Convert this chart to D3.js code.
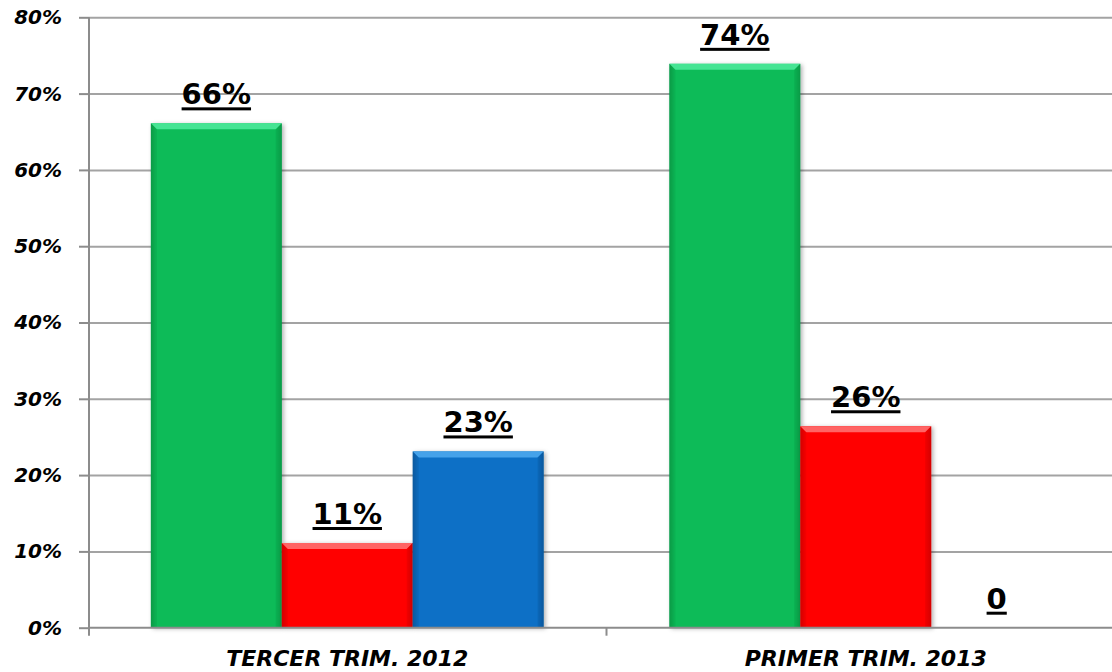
<!DOCTYPE html>
<html>
<head>
<meta charset="utf-8">
<script src="https://cdn.jsdelivr.net/npm/d3@7"></script>
<style>
  html, body { margin: 0; padding: 0; background: #ffffff; }
  svg { display: block; }
</style>
</head>
<body>
<svg id="chart" width="1112" height="672"></svg>
<script>
// ---- data ----
const categories = ["TERCER TRIM. 2012", "PRIMER TRIM. 2013"];
const seriesKeys = ["verde", "rojo", "azul"];
const greenValues = [66.1, 73.9];
const redValues = [11.1, 26.4];
const blueValues = [23.1, 0];
const greenLabels = ["66%", "74%"];
const redLabels = ["11%", "26%"];
const blueLabels = ["23%", "0"];
const yTickValues = [0, 10, 20, 30, 40, 50, 60, 70, 80];
const yTickLabels = ["0%", "10%", "20%", "30%", "40%", "50%", "60%", "70%", "80%"];

const seriesValues = { verde: greenValues, rojo: redValues, azul: blueValues };
const seriesLabels = { verde: greenLabels, rojo: redLabels, azul: blueLabels };
const colors = {
  verde: { base: "#0bbb58", top: "#45e493", dark: "#079a47" },
  rojo:  { base: "#ff0000", top: "#ff6464", dark: "#d40000" },
  azul:  { base: "#0a70c6", top: "#45a2ea", dark: "#07589e" }
};

(function () {
const svg = d3.select("#chart");
const mLeft = 89, mTop = 17.3, mBottom = 627.7, mRight = 1125;

const y = d3.scaleLinear().domain([0, 80]).range([mBottom, mTop]);
const x0 = d3.scaleBand().domain(categories).range([mLeft - 1, mRight]).padding(0);
const x1 = d3.scaleBand().domain(seriesKeys).range([0, x0.bandwidth()]).paddingInner(0).paddingOuter(0.48);

// defs
const defs = svg.append("defs");
const f = defs.append("filter").attr("id", "shadow").attr("x", "-10%").attr("y", "-10%").attr("width", "130%").attr("height", "130%");
f.append("feDropShadow").attr("dx", 2).attr("dy", 1).attr("stdDeviation", 2).attr("flood-color", "#000").attr("flood-opacity", 0.3);
seriesKeys.forEach(k => {
  const g = defs.append("linearGradient").attr("id", "side-" + k).attr("x1", 0).attr("x2", 1).attr("y1", 0).attr("y2", 0);
  g.append("stop").attr("offset", "0%").attr("stop-color", colors[k].dark);
  g.append("stop").attr("offset", "4%").attr("stop-color", colors[k].base);
  g.append("stop").attr("offset", "96%").attr("stop-color", colors[k].base);
  g.append("stop").attr("offset", "100%").attr("stop-color", colors[k].dark);
});

// gridlines
const grid = svg.append("g").attr("transform", `translate(${mLeft},0)`)
  .call(d3.axisLeft(y).tickValues(yTickValues.slice(1)).tickSize(-(1112 - mLeft)).tickFormat(""));
grid.select(".domain").remove();
grid.selectAll("line").attr("stroke", "#a3a3a3").attr("stroke-width", 2);

// bars
const data = [];
categories.forEach((c, i) => seriesKeys.forEach(k => data.push({ cat: c, key: k, value: seriesValues[k][i], label: seriesLabels[k][i] })));

const bars = svg.append("g").selectAll("g.bar").data(data.filter(d => d.value > 0)).join("g").attr("class", "bar");
bars.each(function (d) {
  const g = d3.select(this);
  const bx = x0(d.cat) + x1(d.key), bw = x1.bandwidth();
  const by = y(d.value), bh = y(0) - y(d.value);
  const c = colors[d.key];
  g.append("rect").attr("x", bx).attr("y", by).attr("width", bw).attr("height", bh)
    .attr("fill", `url(#side-${d.key})`).attr("filter", "url(#shadow)");
  const b = 6;
  g.append("path")
    .attr("d", `M${bx},${by} L${bx + bw},${by} L${bx + bw - b},${by + b} L${bx + b},${by + b} Z`)
    .attr("fill", c.top);
  g.append("path")
    .attr("d", `M${bx},${by} L${bx + b},${by + b} L${bx + b},${by + bh} L${bx},${by + bh} Z`)
    .attr("fill", c.dark).attr("opacity", 0.3);
  g.append("path")
    .attr("d", `M${bx + bw},${by} L${bx + bw - b},${by + b} L${bx + bw - b},${by + bh} L${bx + bw},${by + bh} Z`)
    .attr("fill", c.dark).attr("opacity", 0.4);
});

// axes
const yAxis = svg.append("g").attr("transform", `translate(${mLeft},0)`)
  .call(d3.axisLeft(y).tickValues(yTickValues).tickSize(10).tickFormat((d, i) => yTickLabels[i]).tickPadding(17));
yAxis.select(".domain").attr("d", `M0,${mTop}V${mBottom + 8}`).attr("stroke", "#8c8c8c").attr("stroke-width", 2);
yAxis.selectAll(".tick line").attr("stroke", "#8c8c8c").attr("stroke-width", 2);
yAxis.selectAll(".tick text")
  .attr("font-family", "'DejaVu Sans', Verdana, sans-serif")
  .attr("font-weight", "bold").attr("font-style", "italic")
  .attr("font-size", 20).attr("fill", "#000");

const xAxis = svg.append("g").attr("transform", `translate(0,${mBottom})`)
  .call(d3.axisBottom(x0).tickSize(0));
xAxis.select(".domain").attr("d", `M${mLeft},0H${1112}`).attr("stroke", "#8c8c8c").attr("stroke-width", 2);
xAxis.selectAll(".tick text")
  .attr("y", 38.3).attr("dy", 0)
  .attr("font-family", "'DejaVu Sans', Verdana, sans-serif")
  .attr("font-weight", "bold").attr("font-style", "italic")
  .attr("font-size", 22).attr("fill", "#000");
// category boundary ticks
svg.append("g").selectAll("line").data(categories.slice(1)).join("line")
  .attr("x1", d => x0(d)).attr("x2", d => x0(d))
  .attr("y1", mBottom).attr("y2", mBottom + 8)
  .attr("stroke", "#8c8c8c").attr("stroke-width", 2);

// data labels
const labs = svg.append("g").selectAll("g.lab").data(data).join("g").attr("class", "lab");
labs.each(function (d) {
  const g = d3.select(this);
  const cx = x0(d.cat) + x1(d.key) + x1.bandwidth() / 2;
  const baseY = y(d.value) - 19;
  const t = g.append("text").attr("x", cx).attr("y", baseY).attr("text-anchor", "middle")
    .attr("font-family", "'DejaVu Sans', Verdana, sans-serif").attr("font-weight", "bold")
    .attr("font-size", 29).attr("fill", "#000").text(d.label);
  const w = t.node().getComputedTextLength();
  g.append("rect").attr("x", cx - w / 2).attr("y", baseY + 3).attr("width", w).attr("height", 3).attr("fill", "#000");
});
})();
</script>
</body>
</html>
